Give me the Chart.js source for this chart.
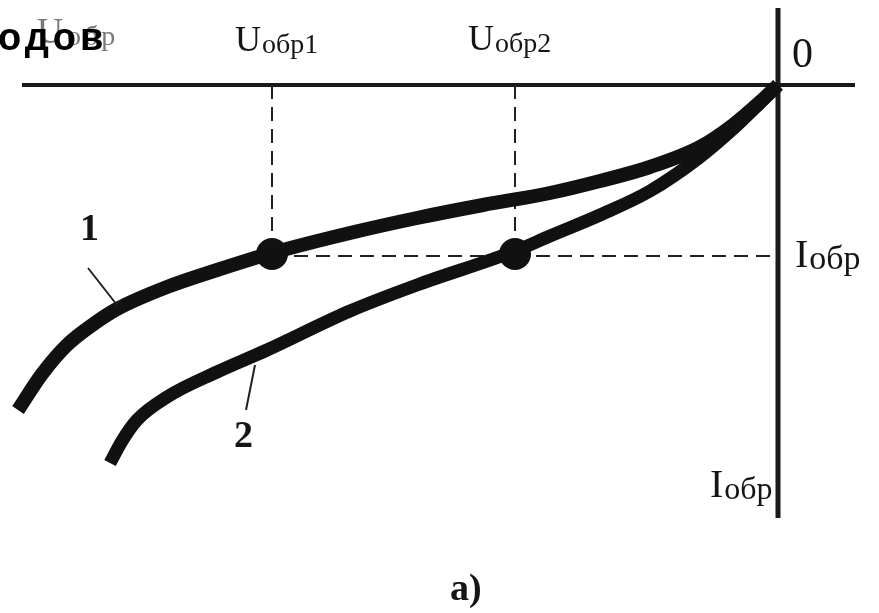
<!DOCTYPE html>
<html>
<head>
<meta charset="utf-8">
<script src="https://cdn.jsdelivr.net/npm/chart.js@4/dist/chart.umd.min.js"></script>
<style>
  html, body { margin: 0; padding: 0; background: #fff; }
  #wrap { width: 879px; height: 613px; }
</style>
</head>
<body>
<div id="wrap"><canvas id="diode" width="879" height="613"></canvas></div>
<script>
// reverse branch of the diode I-V curve, U and I both negative (arbitrary units)
const curve1U = [-7.60, -7.36, -7.11, -6.83, -6.61, -6.11, -5.61, -5.06, -4.28, -3.61, -2.95, -2.28, -1.78, -1.28, -0.78, -0.45, -0.18, 0]
const curve1I = [-3.25, -2.89, -2.60, -2.38, -2.24, -2.02, -1.85, -1.68, -1.48, -1.33, -1.20, -1.08, -0.96, -0.82, -0.62, -0.40, -0.17, 0]

const curve2U = [-6.68, -6.56, -6.41, -6.11, -5.61, -5.11, -4.28, -3.61, -2.63, -2.28, -1.78, -1.28, -0.78, -0.45, -0.18, 0]
const curve2I = [-3.78, -3.56, -3.35, -3.12, -2.87, -2.65, -2.26, -2.00, -1.66, -1.51, -1.30, -1.06, -0.72, -0.44, -0.18, 0]

// working point: same reverse current, two reverse voltages
const uObr1 = -5.06
const uObr2 = -2.63
const iObr = -1.69

// extent of the drawn axes
const uAxis = [-7.56, 0.77]
const iAxis = [0.77, -4.33]

const pts = (xs, ys) => xs.map((x, i) => ({x: x, y: ys[i]}))

const ink = '#111'
const line = (data, w, extra) => Object.assign({
  data: data, showLine: true, borderColor: ink, borderWidth: w,
  pointRadius: 0, fill: false, clip: false
}, extra || {})

const labels = {
  id: 'labels',
  afterDatasetsDraw(chart) {
    const c = chart.ctx
    const sx = chart.scales.x, sy = chart.scales.y
    const px = v => sx.getPixelForValue(v)
    const py = v => sy.getPixelForValue(v)
    const serif = '"Liberation Serif", "DejaVu Serif", serif'
    c.save()
    c.textBaseline = 'alphabetic'
    c.textAlign = 'left'

    // label with big letter and smaller tail
    const sym = (big, small, x, y, bs, ss, col) => {
      c.fillStyle = col || '#151515'
      c.font = bs + 'px ' + serif
      c.fillText(big, x, y)
      const w = c.measureText(big).width
      c.font = ss + 'px ' + serif
      c.fillText(small, x + w + 1, y + 2)
    }

    // faded axis name at the top left, under the page heading
    c.letterSpacing = '3px'
    sym('U', 'обр', 37, 43, 36, 28, '#777')
    c.fillStyle = '#000'
    c.font = 'bold 38px "Liberation Sans", Arial, sans-serif'
    c.letterSpacing = '4px'
    c.fillText('одов', -2, 50)
    c.letterSpacing = '0px'

    sym('U', 'обр1', px(uObr1) - 37, 51, 36, 28)
    sym('U', 'обр2', px(uObr2) - 47, 50, 36, 28)

    c.fillStyle = '#151515'
    c.font = '42px ' + serif
    c.fillText('0', px(0) + 14, py(0) - 18)

    sym('I', 'обр', px(0) + 17, py(iObr) + 13, 40, 34)
    sym('I', 'обр', px(0) - 68, py(iAxis[1]) - 21, 40, 32)

    c.font = 'bold 38px ' + serif
    c.fillText('1', 80, 240)
    c.fillText('2', 234, 447)
    c.fillText('a)', 450, 600)

    // leader lines to the curves
    c.strokeStyle = '#222'
    c.lineWidth = 2
    c.beginPath()
    c.moveTo(88, 268); c.lineTo(117, 305)
    c.moveTo(246, 410); c.lineTo(255, 365)
    c.stroke()
    c.restore()
  }
}

new Chart(document.getElementById('diode'), {
  type: 'scatter',
  data: {
    datasets: [
      {
        data: [{x: uObr1, y: iObr}, {x: uObr2, y: iObr}],
        pointRadius: 16, pointHoverRadius: 16,
        backgroundColor: ink, borderWidth: 0, clip: false
      },
      line(pts(curve1U, curve1I), 14, {cubicInterpolationMode: 'monotone', borderCapStyle: 'butt'}),
      line(pts(curve2U, curve2I), 13, {cubicInterpolationMode: 'monotone', borderCapStyle: 'butt'}),
      line([{x: uObr1, y: 0}, {x: uObr1, y: iObr}], 2, {borderDash: [14, 8], borderColor: '#222'}),
      line([{x: uObr2, y: 0}, {x: uObr2, y: iObr}], 2, {borderDash: [14, 8], borderColor: '#222'}),
      line([{x: uObr1, y: iObr - 0.02}, {x: 0, y: iObr - 0.02}], 2, {borderDash: [14, 8], borderColor: '#222'}),
      line([{x: uAxis[0], y: 0}, {x: uAxis[1], y: 0}], 4, {borderColor: '#1a1a1a'}),
      line([{x: 0, y: iAxis[0]}, {x: 0, y: iAxis[1]}], 5, {borderColor: '#1a1a1a'})
    ]
  },
  options: {
    responsive: false,
    animation: false,
    devicePixelRatio: 1,
    layout: {padding: 0, autoPadding: false},
    plugins: {legend: {display: false}, tooltip: {enabled: false}},
    scales: {
      x: {type: 'linear', min: -7.78, max: 1.01, display: false},
      y: {type: 'linear', min: -5.28, max: 0.85, display: false}
    }
  },
  plugins: [labels]
})
</script>
</body>
</html>
